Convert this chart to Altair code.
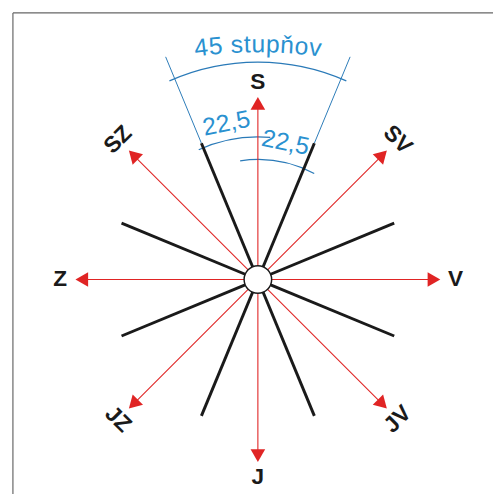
import math
import altair as alt
import pandas as pd

# ---- data ----
directions = ["S", "SV", "V", "JV", "J", "JZ", "Z", "SZ"]
bearings = [0, 45, 90, 135, 180, 225, 270, 315]
label_angles = [0, 45, 0, 315, 0, 45, 0, 315]
black_bearings = [22.5, 67.5, 112.5, 157.5, 202.5, 247.5, 292.5, 337.5]
guide_bearings = [-22.5, 22.5]
arc_radius = [221, 145, 122]
arc_start = [-24, -24.5, -8.5]
arc_end = [24, 5, 28]
small_labels = ["22,5", "22,5"]
small_label_bearing = [-11.4, 11.4]
small_label_r = [162, 142]
title_text = "45 stupňov"

R_CIRCLE = 14
R_ARROW_TIP = 187
R_BLACK = 150
R_GUIDE = 245
R_LABEL = 201

RED = "#e02424"
BLUE_T = "#2a91d0"
BLUE_L = "#2a7ab8"
BLACK = "#1a1a1a"

xs = alt.Scale(domain=[-254, 231], nice=False, zero=False)
ys = alt.Scale(domain=[-206, 272], nice=False, zero=False)


def pol(r, b):
    a = math.radians(b)
    return r * math.sin(a), r * math.cos(a)


def X(f):
    return alt.X(f, type="quantitative", scale=xs, axis=None)


def Y(f):
    return alt.Y(f, type="quantitative", scale=ys, axis=None)


# frame
frame = pd.DataFrame({"x": [-249, -249], "y": [271, 271], "x2": [245, -249], "y2": [271, -220]})
frame_l = alt.Chart(frame).mark_rule(color="#666666", strokeWidth=1.2).encode(
    x=X("x"), y=Y("y"), x2="x2:Q", y2="y2:Q")

# blue guide lines
g = []
for b in guide_bearings:
    x1, y1 = pol(R_BLACK, b)
    x2, y2 = pol(R_GUIDE, b)
    g.append({"x": x1, "y": y1, "x2": x2, "y2": y2})
guide_l = alt.Chart(pd.DataFrame(g)).mark_rule(color=BLUE_L, strokeWidth=1).encode(
    x=X("x"), y=Y("y"), x2="x2:Q", y2="y2:Q")

# blue arcs
arcs = pd.DataFrame({
    "cx": [0] * 3, "cy": [0] * 3, "r": arc_radius,
    "t1": [math.radians(v) for v in arc_start],
    "t2": [math.radians(v) for v in arc_end],
})
arc_l = alt.Chart(arcs).mark_arc(fillOpacity=0, stroke=BLUE_L, strokeWidth=1.2).encode(
    x=X("cx"), y=Y("cy"),
    radius=alt.Radius("r:Q", scale=None), radius2="r:Q",
    theta=alt.Theta("t1:Q", scale=None), theta2="t2:Q")

# black lines
bl = []
for b in black_bearings:
    x1, y1 = pol(R_CIRCLE, b)
    x2, y2 = pol(R_BLACK, b)
    bl.append({"x": x1, "y": y1, "x2": x2, "y2": y2})
black_l = alt.Chart(pd.DataFrame(bl)).mark_rule(color=BLACK, strokeWidth=3).encode(
    x=X("x"), y=Y("y"), x2="x2:Q", y2="y2:Q")

# red arrows
rl, heads, labs = [], [], []
for d, b, la in zip(directions, bearings, label_angles):
    x1, y1 = pol(R_CIRCLE, b)
    x2, y2 = pol(R_ARROW_TIP - 8, b)
    rl.append({"x": x1, "y": y1, "x2": x2, "y2": y2})
    hx, hy = pol(R_ARROW_TIP - 8, b)
    heads.append({"x": hx, "y": hy, "ang": b})
    lx, ly = pol(R_LABEL, b)
    labs.append({"x": lx, "y": ly, "t": d, "ang": la})
red_l = alt.Chart(pd.DataFrame(rl)).mark_rule(color=RED, strokeWidth=1.1).encode(
    x=X("x"), y=Y("y"), x2="x2:Q", y2="y2:Q")
head_l = alt.Chart(pd.DataFrame(heads)).mark_point(
    shape="triangle-up", filled=True, color=RED, size=220, opacity=1).encode(
    x=X("x"), y=Y("y"), angle=alt.Angle("ang:Q", scale=None))

# center circle
circ = alt.Chart(pd.DataFrame({"x": [0], "y": [0]})).mark_point(
    shape="circle", filled=True, fill="white", stroke=BLACK, strokeWidth=1.5,
    size=(2 * R_CIRCLE) ** 2, opacity=1).encode(x=X("x"), y=Y("y"))

# direction labels
lab_l = alt.Chart(pd.DataFrame(labs)).mark_text(
    font="Liberation Sans", fontWeight="bold", fontSize=23, color=BLACK,
    align="center", baseline="middle").encode(
    x=X("x"), y=Y("y"), text="t:N", angle=alt.Angle("ang:Q", scale=None))

# 22,5 labels
sl = []
for t, b, r in zip(small_labels, small_label_bearing, small_label_r):
    x, y = pol(r, b)
    sl.append({"x": x, "y": y, "t": t, "ang": b % 360})
small_l = alt.Chart(pd.DataFrame(sl)).mark_text(
    font="Liberation Sans", fontSize=25, color=BLUE_T,
    align="center", baseline="middle").encode(
    x=X("x"), y=Y("y"), text="t:N", angle=alt.Angle("ang:Q", scale=None))

# curved title "45 stupňov"
FS = 25
TRACK = 0.8
em = {"4": 0.556, "5": 0.556, " ": 0.278, "s": 0.5, "t": 0.278, "u": 0.556,
      "p": 0.556, "ň": 0.556, "o": 0.556, "v": 0.5}
adv = [em.get(c, 0.556) * FS + TRACK for c in title_text]
total = sum(adv) - TRACK
RT = 480
cy_t = 239 - RT
pos = -total / 2
chars = []
for c, a in zip(title_text, adv):
    mid = pos + (a - TRACK) / 2
    b = math.degrees(mid / RT)
    x, y = pol(RT, b)
    chars.append({"x": x, "y": y + cy_t, "t": c, "ang": b % 360})
    pos += a
title_l = alt.Chart(pd.DataFrame(chars)).mark_text(
    font="Liberation Sans", fontSize=FS, color=BLUE_T,
    align="center", baseline="middle").encode(
    x=X("x"), y=Y("y"), text="t:N", angle=alt.Angle("ang:Q", scale=None))

chart = alt.layer(frame_l, guide_l, arc_l, black_l, red_l, head_l, circ, lab_l, small_l, title_l).properties(
    width=485, height=478,
    autosize=alt.AutoSizeParams(type="none"),
    padding={"left": 0, "top": 0, "right": 8, "bottom": 8},
).configure_view(stroke=None)

chart.save("out.html", embed_options={"renderer": "svg", "actions": False})
